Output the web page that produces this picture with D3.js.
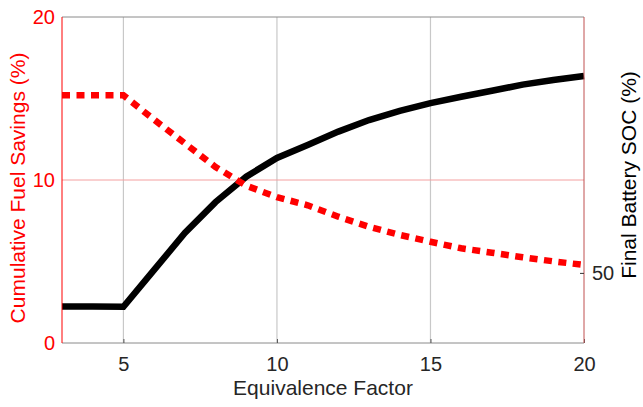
<!DOCTYPE html>
<html>
<head>
<meta charset="utf-8">
<script src="https://cdn.jsdelivr.net/npm/d3@7"></script>
<style>
  body { margin: 0; background: #fff; }
  svg { display: block; font-family: Arial, "Liberation Sans", Helvetica, sans-serif; }
</style>
</head>
<body>
<svg id="chart" width="643" height="407"></svg>
<script>
// ---- data ----
const equivalenceFactor = [3, 4, 5, 6, 7, 8, 9, 10, 11, 12, 13, 14, 15, 16, 17, 18, 19, 20];
const fuelSavings = [15.2, 15.2, 15.2, 13.7, 12.25, 10.8, 9.65, 8.95, 8.45, 7.75, 7.13, 6.63, 6.21, 5.81, 5.54, 5.26, 5.01, 4.79];
const finalSOC = [48.08, 48.08, 48.07, 50.17, 52.28, 54.04, 55.49, 56.56, 57.3, 58.06, 58.72, 59.24, 59.69, 60.05, 60.39, 60.74, 61.01, 61.23];
const xTicks = [5, 10, 15, 20];
const leftTicks = [0, 10, 20];
const rightTicks = [50];

// ---- layout ----
const svg = d3.select("#chart");
const L = 62, R = 584, T = 17, B = 343;

const x = d3.scaleLinear().domain([3, 20]).range([L, R]);
const yL = d3.scaleLinear().domain([0, 20]).range([B, T]);
const yR = d3.scaleLinear().domain([46, 64.6]).range([B, T]);

const red = "#ff0000";
const font = "Arial, 'Liberation Sans', Helvetica, sans-serif";

// vertical grid
svg.append("g").selectAll("line").data(xTicks.filter(d => d < 20)).join("line")
  .attr("x1", d => x(d)).attr("x2", d => x(d)).attr("y1", T).attr("y2", B)
  .attr("stroke", "#c8c8c8").attr("stroke-width", 1.2);
// horizontal grid (left axis)
svg.append("g").selectAll("line").data(leftTicks.filter(d => d > 0 && d < 20)).join("line")
  .attr("x1", L).attr("x2", R).attr("y1", d => yL(d)).attr("y2", d => yL(d))
  .attr("stroke", "#f4a0a0").attr("stroke-width", 1);

// top box line
svg.append("line").attr("x1", L).attr("x2", R).attr("y1", T).attr("y2", T)
  .attr("stroke", "#8a8a8a").attr("stroke-width", 1);

// lines
const lineL = d3.line().x((d, i) => x(equivalenceFactor[i])).y(d => yL(d));
const lineR = d3.line().x((d, i) => x(equivalenceFactor[i])).y(d => yR(d));

svg.append("path").datum(finalSOC).attr("d", lineR)
  .attr("fill", "none").attr("stroke", "#000").attr("stroke-width", 6.5)
  .attr("stroke-linejoin", "miter");

svg.append("path").datum(fuelSavings).attr("d", lineL)
  .attr("fill", "none").attr("stroke", red).attr("stroke-width", 6.5)
  .attr("stroke-dasharray", "8,6.5");

// x axis
const xAxis = d3.axisBottom(x).tickValues(xTicks).tickSize(4).tickSizeOuter(0).tickPadding(10);
const gx = svg.append("g").attr("transform", `translate(0,${B})`).call(xAxis);
gx.select(".domain").attr("stroke", "#8a8a8a").attr("d", `M${L},0H${R}`);
gx.selectAll(".tick line").attr("stroke", "#555").attr("y2", -4);
gx.selectAll("text").attr("fill", "#262626").attr("font-size", 20).attr("font-family", font);

// left axis
const yAxisL = d3.axisLeft(yL).tickValues(leftTicks).tickSize(0).tickPadding(7);
const gl = svg.append("g").attr("transform", `translate(${L},0)`).call(yAxisL);
gl.select(".domain").attr("stroke", red).attr("stroke-width", 1).attr("d", `M0,${T}V${B}`);
gl.selectAll("text").attr("fill", red).attr("font-size", 20).attr("font-family", font);

// right axis
const yAxisR = d3.axisRight(yR).tickValues(rightTicks).tickSize(-4).tickPadding(8);
const gr = svg.append("g").attr("transform", `translate(${R},0)`).call(yAxisR);
gr.select(".domain").attr("stroke", "#c05050").attr("stroke-width", 1).attr("d", `M0,${T}V${B}`);
gr.selectAll(".tick line").attr("stroke", "#333");
gr.selectAll("text").attr("fill", "#262626").attr("font-size", 20).attr("font-family", font);

// axis titles
svg.append("text").attr("x", (L + R) / 2).attr("y", 395).attr("text-anchor", "middle")
  .attr("font-size", 21).attr("fill", "#262626").attr("font-family", font).text("Equivalence Factor");
svg.append("text").attr("transform", `translate(25,188) rotate(-90)`)
  .attr("text-anchor", "middle").attr("font-size", 21).attr("fill", red).attr("font-family", font)
  .text("Cumulative Fuel Savings (%)");
svg.append("text").attr("transform", `translate(636,175) rotate(-90)`)
  .attr("text-anchor", "middle").attr("font-size", 21).attr("fill", "#000").attr("font-family", font)
  .text("Final Battery SOC (%)");
</script>
</body>
</html>
